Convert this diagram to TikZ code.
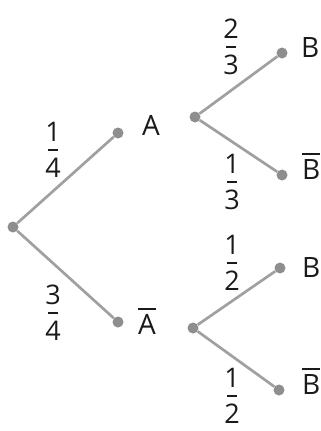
\documentclass[tikz,border=0pt]{standalone}
\usepackage{fontspec}
\setmainfont{Open Sans}
\definecolor{linegray}{HTML}{A0A0A0}
\definecolor{dotgray}{HTML}{8E8E8E}
\definecolor{txt}{HTML}{1A1A1A}
\newcommand\myfr[2]{\vbox{\offinterlineskip\halign{\hfil##\hfil\cr #1\cr\noalign{\kern 7.5bp}\rule{10bp}{1.7bp}\cr\noalign{\kern 7.5bp}#2\cr}}}
\newcommand\ob[1]{\vbox{\offinterlineskip\hrule height 1.7bp\kern 4bp\hbox{#1}}}
\begin{document}
\begin{tikzpicture}[x=1bp,y=-1bp,
  dot/.style={circle,fill=dotgray,inner sep=0pt,minimum size=11bp},
  branch/.style={draw=linegray,line width=2.7bp},
  lab/.style={inner sep=0pt,anchor=base west,text=txt,font=\fontsize{28bp}{30bp}\selectfont},
  frac/.style={inner sep=0pt,text=txt,font=\fontsize{27bp}{30bp}\selectfont}]
\useasboundingbox (0,0) rectangle (321,431);
\node[dot] (r) at (13,227) {};
\node[dot] (a) at (118,133) {};
\node[dot] (na) at (118,322) {};
\node[dot] (a1) at (195,117) {};
\node[dot] (b1) at (282,53) {};
\node[dot] (nb1) at (282,175) {};
\node[dot] (a2) at (193,328) {};
\node[dot] (b2) at (280,268) {};
\node[dot] (nb2) at (279,390) {};
\draw[branch] (r) -- (a);
\draw[branch] (r) -- (na);
\draw[branch] (a1) -- (b1);
\draw[branch] (a1) -- (nb1);
\draw[branch] (a2) -- (b2);
\draw[branch] (a2) -- (nb2);
\node[lab] (ta) at (142,135) {A};
\node[lab] (tna) at (138,334) {\ob{A}};
\node[lab] (tb1) at (301,57) {B};
\node[lab] (tnb1) at (302,179) {\ob{B}};
\node[lab] (tb2) at (302,277) {B};
\node[lab] (tnb2) at (302,394) {\ob{B}};
\node[frac] (f1) at (53,150) {\myfr{1}{4}};
\node[frac] (f2) at (53,313) {\myfr{3}{4}};
\node[frac] (f3) at (231,47) {\myfr{2}{3}};
\node[frac] (f4) at (232,182) {\myfr{1}{3}};
\node[frac] (f5) at (232,263) {\myfr{1}{2}};
\node[frac] (f6) at (232,396) {\myfr{1}{2}};
\end{tikzpicture}
\end{document}
